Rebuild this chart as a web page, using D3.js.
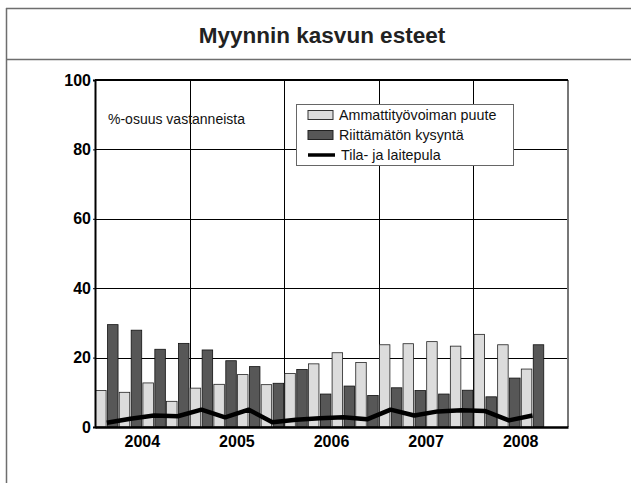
<!DOCTYPE html>
<html>
<head>
<meta charset="utf-8">
<script src="https://cdn.jsdelivr.net/npm/d3@7"></script>
<style>
  body { margin: 0; background: #fff; }
  svg { display: block; font-family: "Liberation Sans", Arial, sans-serif; }
</style>
</head>
<body>
<div id="chart"></div>
<script>
// data (quarters 2004Q1 .. 2008Q3)
var years = ["2004", "2005", "2006", "2007", "2008"];
var quarters = [];
years.forEach(function(y) { for (var q = 1; q <= 4; q++) quarters.push(y + "Q" + q); });

var ammatti = [10.5, 10.0, 12.7, 7.4, 11.2, 12.3, 15.1, 12.2, 15.4, 18.2, 21.4, 18.6,
               23.7, 24.0, 24.6, 23.3, 26.7, 23.7, 16.7];
var kysynta = [29.5, 27.9, 22.4, 24.1, 22.2, 19.1, 17.4, 12.6, 16.6, 9.5, 11.8, 9.1,
               11.3, 10.5, 9.5, 10.6, 8.7, 14.1, 23.7];
var tila = [1.2, 2.4, 3.3, 3.1, 5.0, 2.8, 5.0, 1.4, 2.1, 2.5, 2.8, 2.2,
            5.0, 3.3, 4.5, 4.8, 4.6, 1.9, 3.3];
var yTicks = [0, 20, 40, 60, 80, 100];
var seriesNames = ["Ammattityövoiman puute", "Riittämätön kysyntä", "Tila- ja laitepula"];

var W = 631, H = 483;
var plot = {left: 95, right: 568, top: 80, bottom: 427};

var svg = d3.select("#chart").append("svg")
    .attr("width", W).attr("height", H);

// outer frame and title
var frame = "#6e6e6e";
svg.append("line").attr("x1", 6.5).attr("x2", 6.5).attr("y1", 8).attr("y2", H)
    .attr("stroke", frame).attr("stroke-width", 1.5);
svg.append("line").attr("x1", 6).attr("x2", W).attr("y1", 8.5).attr("y2", 8.5)
    .attr("stroke", frame).attr("stroke-width", 1.5);
svg.append("line").attr("x1", 6).attr("x2", W).attr("y1", 59.5).attr("y2", 59.5)
    .attr("stroke", frame).attr("stroke-width", 1.5);
svg.append("text").attr("x", 322).attr("y", 42.5)
    .attr("text-anchor", "middle").attr("font-size", 22.5).attr("font-weight", "bold")
    .attr("fill", "#222").text("Myynnin kasvun esteet");

// scales
var x0 = d3.scaleBand().domain(quarters).range([plot.left, plot.right]);
var x1 = d3.scaleBand().domain(["a", "b"]).range([0, x0.bandwidth()])
    .paddingInner(0.12).paddingOuter(0.05);
var xYear = d3.scaleBand().domain(years).range([plot.left, plot.right]);
var y = d3.scaleLinear().domain([0, 100]).range([plot.bottom, plot.top]);

// grid
var g = svg.append("g");
g.selectAll(".hgrid").data(yTicks.filter(function(d) { return d > 0 && d < 100; }))
  .enter().append("line")
    .attr("x1", plot.left).attr("x2", plot.right)
    .attr("y1", function(d) { return Math.round(y(d)) + 0.5; })
    .attr("y2", function(d) { return Math.round(y(d)) + 0.5; })
    .attr("stroke", "#000").attr("stroke-width", 1);
g.selectAll(".vgrid").data(years.slice(1))
  .enter().append("line")
    .attr("x1", function(d) { return Math.round(xYear(d)) + 0.5; })
    .attr("x2", function(d) { return Math.round(xYear(d)) + 0.5; })
    .attr("y1", plot.top).attr("y2", plot.bottom)
    .attr("stroke", "#000").attr("stroke-width", 1);

// right border (grey)
svg.append("line").attr("x1", plot.right).attr("x2", plot.right)
    .attr("y1", plot.top).attr("y2", plot.bottom)
    .attr("stroke", "#777").attr("stroke-width", 2);
svg.append("line").attr("x1", plot.left).attr("x2", plot.right)
    .attr("y1", plot.top).attr("y2", plot.top)
    .attr("stroke", "#000").attr("stroke-width", 2);

// bars
var rows = ammatti.map(function(v, i) {
  return {q: quarters[i], a: v, b: kysynta[i], t: tila[i]};
});
var bars = svg.append("g");
bars.selectAll(".ba").data(rows).enter().append("rect")
    .attr("x", function(d) { return x0(d.q) + x1("a"); })
    .attr("width", x1.bandwidth())
    .attr("y", function(d) { return y(d.a); })
    .attr("height", function(d) { return y(0) - y(d.a); })
    .attr("fill", "#dcdcdc").attr("stroke", "#222").attr("stroke-width", 0.8);
bars.selectAll(".bb").data(rows).enter().append("rect")
    .attr("x", function(d) { return x0(d.q) + x1("b"); })
    .attr("width", x1.bandwidth())
    .attr("y", function(d) { return y(d.b); })
    .attr("height", function(d) { return y(0) - y(d.b); })
    .attr("fill", "#575757").attr("stroke", "#111").attr("stroke-width", 0.8);

// line
var line = d3.line()
    .x(function(d) { return x0(d.q) + x0.bandwidth() / 2; })
    .y(function(d) { return y(d.t); });
svg.append("path").datum(rows).attr("d", line)
    .attr("fill", "none").attr("stroke", "#000").attr("stroke-width", 4.5)
    .attr("stroke-linejoin", "round");

// axes
var yAxis = d3.axisLeft(y).tickValues(yTicks).tickSize(2).tickPadding(2);
var ya = svg.append("g").attr("transform", "translate(" + plot.left + ",0)").call(yAxis);
ya.select(".domain").attr("stroke", "#000").attr("stroke-width", 2);
ya.selectAll("text").attr("font-size", 16).attr("font-weight", "bold")
    .attr("fill", "#000").style("font-family", "Liberation Sans, Arial, sans-serif");

var xAxis = d3.axisBottom(xYear).tickSize(0).tickPadding(8.5);
var xa = svg.append("g").attr("transform", "translate(0," + plot.bottom + ")").call(xAxis);
xa.select(".domain").attr("stroke", "#000").attr("stroke-width", 2.5);
xa.selectAll("text").attr("font-size", 16).attr("font-weight", "bold")
    .attr("fill", "#000").style("font-family", "Liberation Sans, Arial, sans-serif");

// note
svg.append("text").attr("x", 108).attr("y", 124)
    .attr("font-size", 14).attr("fill", "#111").text("%-osuus vastanneista");

// legend
var lg = svg.append("g").attr("transform", "translate(296,104)");
lg.append("rect").attr("x", 0.5).attr("y", 0.5).attr("width", 217).attr("height", 61)
    .attr("fill", "#fff").attr("stroke", "#666").attr("stroke-width", 1);
var legendY = [11, 31, 51];
lg.append("rect").attr("x", 12).attr("y", legendY[0] - 4.5).attr("width", 25).attr("height", 9)
    .attr("fill", "#dcdcdc").attr("stroke", "#333");
lg.append("rect").attr("x", 12).attr("y", legendY[1] - 4.5).attr("width", 25).attr("height", 9)
    .attr("fill", "#575757").attr("stroke", "#222");
lg.append("line").attr("x1", 12).attr("x2", 39).attr("y1", legendY[2]).attr("y2", legendY[2])
    .attr("stroke", "#000").attr("stroke-width", 3.5);
lg.selectAll(".lt").data(seriesNames).enter().append("text")
    .attr("x", function(d, i) { return i === 2 ? 45 : 43; })
    .attr("y", function(d, i) { return legendY[i] + 5; })
    .attr("font-size", 14.3).attr("fill", "#111").text(function(d) { return d; });
</script>
</body>
</html>
